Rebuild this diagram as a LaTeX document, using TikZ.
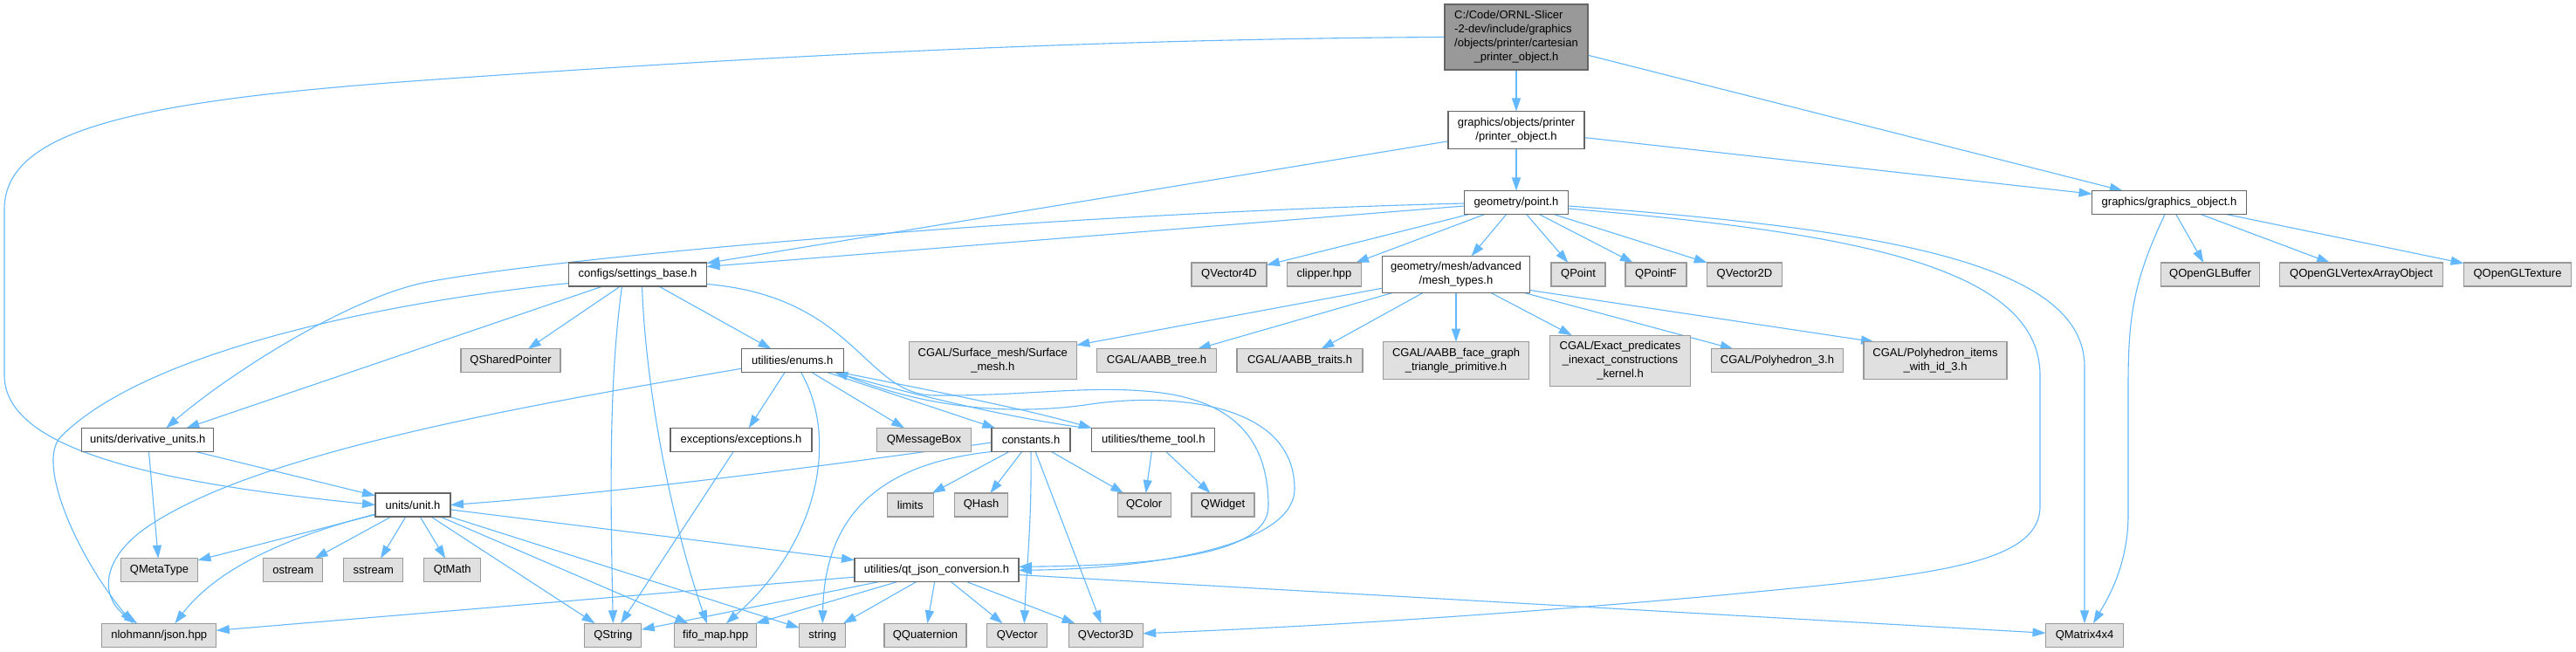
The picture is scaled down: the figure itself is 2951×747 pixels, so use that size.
\documentclass[tikz,border=0pt]{standalone}
\usepackage{fontspec}
\setmainfont{Liberation Sans}
\usetikzlibrary{arrows.meta,calc}
\pgfdeclarelayer{bg}
\pgfsetlayers{bg,main}
\definecolor{cedge}{HTML}{63B8FF}
\definecolor{cgfill}{HTML}{E0E0E0}
\definecolor{cgdraw}{HTML}{999999}
\definecolor{cwdraw}{HTML}{666666}
\definecolor{crfill}{HTML}{999999}
\begin{document}
\begin{tikzpicture}[x=0.5pt,y=-0.5pt,
  nbase/.style={inner sep=0pt, outer sep=0pt, line width=0.6pt, font=\fontsize{6.5}{8}\selectfont, align=center, text=black},
  wbox/.style={nbase, draw=cwdraw, fill=white},
  gbox/.style={nbase, draw=cgdraw, fill=cgfill},
  rbox/.style={nbase, draw=cwdraw, fill=crfill},
  wh/.style 2 args={minimum width=#1*0.5pt, minimum height=#2*0.5pt},
  dep/.style={draw=cedge, line width=0.55pt, -{Triangle[length=7.5pt,width=5pt]}}]
\useasboundingbox (0,0) rectangle (2951,747);
% nodes
\node[rbox,wh={164}{75}] (root) at (1737,42.5) {\begin{tabular}{@{}l@{}}C:/Code/ORNL-Slicer\\-2-dev/include/graphics\\/objects/printer/cartesian\\\multicolumn{1}{@{}c@{}}{\_printer\_object.h}\end{tabular}};
\node[wbox,wh={156}{43}] (pobj) at (1737,149) {graphics/objects/printer\\/printer\_object.h};
\node[wbox,wh={119}{27}] (point) at (1737,232) {geometry/point.h};
\node[wbox,wh={177}{27}] (gobj) at (2485,232) {graphics/graphics\_object.h};
\node[wbox,wh={169}{42}] (mesh) at (1668,314.5) {geometry/mesh/advanced\\/mesh\_types.h};
\node[gbox,wh={85}{27}] (clipper) at (1517,314.5) {clipper.hpp};
\node[gbox,wh={62}{27}] (qpoint) at (1808,314.5) {QPoint};
\node[gbox,wh={70}{27}] (qpointf) at (1897,314.5) {QPointF};
\node[gbox,wh={86}{27}] (qv2d) at (1998.5,314.5) {QVector2D};
\node[gbox,wh={86}{27}] (qv4d) at (1408,314.5) {QVector4D};
\node[wbox,wh={158}{27}] (settings) at (730.5,314.5) {configs/settings\_base.h};
\node[gbox,wh={113}{27}] (qglbuf) at (2532,314.5) {QOpenGLBuffer};
\node[gbox,wh={187}{27}] (qglvao) at (2705,314.5) {QOpenGLVertexArrayObject};
\node[gbox,wh={123}{27}] (qgltex) at (2884,314.5) {QOpenGLTexture};
\node[gbox,wh={114}{27}] (qshared) at (585,413.3) {QSharedPointer};
\node[wbox,wh={117}{27}] (enums) at (907.7,413.3) {utilities/enums.h};
\node[gbox,wh={192}{43}] (surf) at (1137.3,413.2) {CGAL/Surface\_mesh/Surface\\\_mesh.h};
\node[gbox,wh={137}{27}] (aabbtree) at (1325,413.3) {CGAL/AABB\_tree.h};
\node[gbox,wh={144}{27}] (aabbtraits) at (1489,413.3) {CGAL/AABB\_traits.h};
\node[gbox,wh={167}{43}] (facegraph) at (1668,413.2) {CGAL/AABB\_face\_graph\\\_triangle\_primitive.h};
\node[gbox,wh={161}{58}] (exact) at (1856,413.2) {CGAL/Exact\_predicates\\\_inexact\_constructions\\\_kernel.h};
\node[gbox,wh={151}{27}] (poly3) at (2036,413.3) {CGAL/Polyhedron\_3.h};
\node[gbox,wh={164}{43}] (polyitems) at (2217,413.2) {CGAL/Polyhedron\_items\\\_with\_id\_3.h};
\node[wbox,wh={151}{27}] (deriv) at (169.3,504) {units/derivative\_units.h};
\node[wbox,wh={162}{27}] (exc) at (849,504) {exceptions/exceptions.h};
\node[gbox,wh={108}{27}] (qmsg) at (1058.5,504) {QMessageBox};
\node[wbox,wh={90}{27}] (consts) at (1181,504) {constants.h};
\node[wbox,wh={141}{27}] (theme) at (1321.3,504) {utilities/theme\_tool.h};
\node[wbox,wh={86}{27}] (unit) at (473,578.5) {units/unit.h};
\node[gbox,wh={53}{27}] (limits) at (1042.7,578.5) {limits};
\node[gbox,wh={61}{27}] (qhash) at (1124,578.5) {QHash};
\node[gbox,wh={61}{27}] (qcolor) at (1310.7,578.5) {QColor};
\node[gbox,wh={72}{27}] (qwidget) at (1401,578.5) {QWidget};
\node[gbox,wh={88}{27}] (qmeta) at (182.5,653.3) {QMetaType};
\node[gbox,wh={68}{27}] (ostream) at (335.8,653.3) {ostream};
\node[gbox,wh={68}{27}] (sstream) at (427.8,653.3) {sstream};
\node[gbox,wh={65}{27}] (qtmath) at (518.3,653.3) {QtMath};
\node[wbox,wh={188}{27}] (qtjson) at (1073,653.3) {utilities/qt\_json\_conversion.h};
\node[gbox,wh={131}{27}] (json) at (182.3,727.8) {nlohmann/json.hpp};
\node[gbox,wh={65}{27}] (qstring) at (702.3,727.8) {QString};
\node[gbox,wh={94}{27}] (fifo) at (819.8,727.8) {fifo\_map.hpp};
\node[gbox,wh={53}{27}] (string) at (942.3,727.8) {string};
\node[gbox,wh={94}{27}] (qquat) at (1060,727.8) {QQuaternion};
\node[gbox,wh={69}{27}] (qvector) at (1165.3,727.8) {QVector};
\node[gbox,wh={85}{27}] (qv3d) at (1266.7,727.8) {QVector3D};
\node[gbox,wh={89}{27}] (qmat) at (2388,727.8) {QMatrix4x4};
% edges
\begin{pgfonlayer}{bg}
\fill[white] (0,0) rectangle (2951,747);
\draw[dep] (root) -- (pobj);
\draw[dep] (root) -- (gobj);
\draw[dep] (root.west) .. controls (1200,45) and (800,70) .. (500,91) .. controls (150,115) and (5,150) .. (5,240) -- (5,430) .. controls (5,520) and (200,555) .. (unit.west);
\draw[dep] (pobj) -- (point);
\draw[dep] (pobj) -- (settings);
\draw[dep] (pobj) -- (gobj);
\draw[dep] ($(point.west)+(0,4)$) -- ($(settings.east)+(0,-9)$);
\draw[dep] ($(point.west)+(0,1)$) .. controls (1200,245) and (650,293) .. (490,323) .. controls (400,340) and (260,430) .. ($(deriv.north)+(21,0)$);
\draw[dep] (point) -- (qv4d);
\draw[dep] (point) -- (clipper);
\draw[dep] (point) -- (mesh);
\draw[dep] (point) -- (qpoint);
\draw[dep] (point) -- (qpointf);
\draw[dep] (point) -- (qv2d);
\draw[dep] ($(point.east)+(0,4)$) .. controls (2150,262) and (2388,300) .. (2388,420) -- (qmat.north);
\draw[dep] ($(point.east)+(0,7)$) .. controls (2100,265) and (2337,300) .. (2337,430) -- (2337,580) .. controls (2337,650) and (2200,660) .. (1960,683) .. controls (1700,706) and (1500,718) .. ($(qv3d.east)+(0,-2)$);
\draw[dep] (gobj) -- (qglbuf);
\draw[dep] (gobj) -- (qglvao);
\draw[dep] (gobj) -- (qgltex);
\draw[dep] ($(gobj.south)+(-5,0)$) .. controls (2445,320) and (2438,360) .. (2438,440) -- (2438,590) .. controls (2438,650) and (2412,690) .. ($(qmat.north)+(10,0)$);
\draw[dep] (mesh) -- (surf);
\draw[dep] (mesh) -- (aabbtree);
\draw[dep] (mesh) -- (aabbtraits);
\draw[dep] (mesh) -- (facegraph);
\draw[dep] (mesh) -- (exact);
\draw[dep] (mesh) -- (poly3);
\draw[dep] ($(mesh.east)+(0,18)$) -- ($(polyitems.north west)+(12,0)$);
\draw[dep] (settings) -- (qshared);
\draw[dep] (settings) -- (enums);
\draw[dep] ($(settings.south)+(-40,0)$) -- ($(deriv.north)+(44,0)$);
\draw[dep] ($(settings.west)+(0,10)$) .. controls (450,345) and (170,400) .. (70,500) .. controls (40,530) and (90,640) .. ($(json.north)+(-30,0)$);
\draw[dep] ($(settings.south)+(-18,0)$) .. controls (700,420) and (698,520) .. (qstring.north);
\draw[dep] ($(settings.south)+(5,0)$) .. controls (740,450) and (770,600) .. ($(fifo.north)+(-10,0)$);
\draw[dep] ($(settings.east)+(0,11)$) .. controls (980,340) and (990,452) .. (1070,453) .. controls (1180,454) and (1250,440) .. (1330,450) .. controls (1420,462) and (1453,510) .. (1453,580) .. controls (1453,640) and (1300,648) .. ($(qtjson.east)+(0,-4)$);
\draw[dep] (enums) -- (consts);
\draw[dep] ($(enums.south east)+(-3,0)$) .. controls (1080,450) and (1180,470) .. (theme.north west);
\draw[dep] ($(theme.north west)+(-6,0)$) .. controls (1150,478) and (1040,450) .. ($(enums.south east)+(-10,0)$);
\draw[dep] (enums) -- (qmsg);
\draw[dep] (enums) -- (exc);
\draw[dep] ($(enums.west)+(0,9)$) .. controls (600,465) and (280,520) .. (160,610) .. controls (110,650) and (120,690) .. ($(json.north)+(-25,0)$);
\draw[dep] ($(enums.south)+(10,0)$) .. controls (960,500) and (940,620) .. ($(fifo.north)+(12,0)$);
\draw[dep] ($(enums.south east)+(-6,0)$) .. controls (1050,465) and (1150,478) .. (1250,463) .. controls (1340,450) and (1483,460) .. (1483,560) .. controls (1483,630) and (1300,652) .. (qtjson.east);
\draw[dep] (exc) -- (qstring);
\draw[dep] (deriv) -- (unit);
\draw[dep] (deriv) -- (qmeta);
\draw[dep] ($(consts.west)+(0,3)$) .. controls (900,540) and (700,565) .. (unit.east);
\draw[dep] (consts.south west) .. controls (1020,530) and (945,580) .. (string.north);
\draw[dep] (consts) -- (limits);
\draw[dep] (consts) -- (qhash);
\draw[dep] (consts) -- (qcolor);
\draw[dep] (consts.south) .. controls (1182,600) and (1176,650) .. ($(qvector.north)+(8,0)$);
\draw[dep] (consts) -- (qv3d);
\draw[dep] (theme) -- (qcolor);
\draw[dep] (theme) -- (qwidget);
\draw[dep] (unit) -- (qmeta);
\draw[dep] ($(unit.south west)+(0,-3)$) .. controls (330,615) and (250,650) .. ($(json.north)+(18,0)$);
\draw[dep] (unit) -- (ostream);
\draw[dep] (unit) -- (sstream);
\draw[dep] (unit) -- (qtmath);
\draw[dep] (unit) -- (qstring);
\draw[dep] (unit) -- (fifo);
\draw[dep] (unit) -- (string);
\draw[dep] (unit) -- (qtjson);
\draw[dep] (qtjson) -- (json);
\draw[dep] (qtjson) -- (qstring);
\draw[dep] (qtjson) -- (fifo);
\draw[dep] (qtjson) -- (string);
\draw[dep] (qtjson) -- (qquat);
\draw[dep] (qtjson) -- (qvector);
\draw[dep] (qtjson) -- (qv3d);
\draw[dep] (qtjson) -- (qmat);
\end{pgfonlayer}
\end{tikzpicture}
\end{document}
